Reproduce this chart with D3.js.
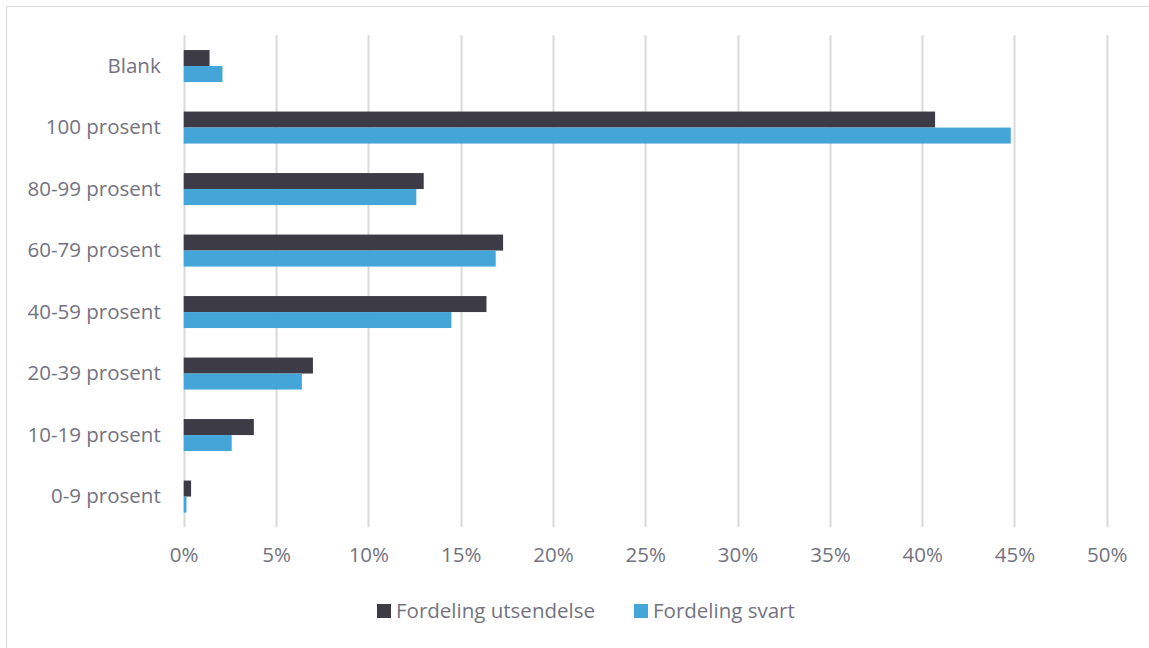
<!DOCTYPE html>
<html>
<head>
<meta charset="utf-8">
<script src="https://cdn.jsdelivr.net/npm/d3@7"></script>
<style>
  html, body { margin: 0; padding: 0; background: #fff; }
  svg { display: block; }
  text { font-family: "Open Sans", "Noto Sans", sans-serif; fill: #737380; }
</style>
</head>
<body>
<svg id="chart" width="1149" height="648"></svg>
<script>
// Response categories, top to bottom
const categories = ["Blank", "100 prosent", "80-99 prosent", "60-79 prosent", "40-59 prosent", "20-39 prosent", "10-19 prosent", "0-9 prosent"];
// Share of questionnaires sent out (percent)
const utsendelse = [1.4, 40.7, 13.0, 17.3, 16.4, 7.0, 3.8, 0.4];
// Share of responses received (percent)
const svart = [2.1, 44.8, 12.6, 16.9, 14.5, 6.4, 2.6, 0.15];
const seriesNames = ["Fordeling utsendelse", "Fordeling svart"];
const xTicks = [0, 5, 10, 15, 20, 25, 30, 35, 40, 45, 50];

const colors = ["#3d3c46", "#44a5d9"];
const fontSize = 20.5;
const svg = d3.select("#chart");

// outer frame
svg.append("rect")
  .attr("x", 6.5).attr("y", 6.5).attr("width", 1160).attr("height", 660)
  .attr("fill", "none").attr("stroke", "#d9d9d9").attr("stroke-width", 1);

const plotLeft = 183.7, plotRight = 1106.8, plotTop = 35.3, plotBottom = 527.3;

const x = d3.scaleLinear().domain([0, 50]).range([plotLeft, plotRight]);
const y = d3.scaleBand().domain(categories).range([plotTop, plotBottom]).paddingInner(0.48).paddingOuter(0.24);
const inner = d3.scaleBand().domain(seriesNames).range([0, y.bandwidth()]);

// vertical gridlines
svg.append("g").selectAll("line").data(xTicks).join("line")
  .attr("x1", d => Math.round(x(d)) + 0.5).attr("x2", d => Math.round(x(d)) + 0.5)
  .attr("y1", plotTop).attr("y2", plotBottom)
  .attr("stroke", "#d9d9d9").attr("stroke-width", 2);

// x axis labels
const xAxis = d3.axisBottom(x).tickValues(xTicks).tickFormat(d => d + "%").tickSize(0).tickPadding(17);
const gx = svg.append("g").attr("transform", `translate(0,${plotBottom + 3})`).call(xAxis);
gx.select(".domain").remove();
gx.selectAll("text").attr("font-size", fontSize).attr("fill", "#737380")
  .style("font-family", '"Open Sans", "Noto Sans", sans-serif');

// y axis labels
const yAxis = d3.axisLeft(y).tickSize(0).tickPadding(23);
const gy = svg.append("g").attr("transform", `translate(${plotLeft},0)`).call(yAxis);
gy.select(".domain").remove();
gy.selectAll("text").attr("font-size", fontSize).attr("fill", "#737380")
  .style("font-family", '"Open Sans", "Noto Sans", sans-serif');

// bars
const rows = categories.map((c, i) => ({ c, vals: [utsendelse[i], svart[i]] }));
const groups = svg.append("g").selectAll("g").data(rows).join("g")
  .attr("transform", d => `translate(0,${y(d.c)})`);
groups.selectAll("rect").data(d => d.vals.map((v, k) => ({ v, k }))).join("rect")
  .attr("x", x(0))
  .attr("y", d => inner(seriesNames[d.k]))
  .attr("width", d => x(d.v) - x(0))
  .attr("height", inner.bandwidth())
  .attr("fill", d => colors[d.k]);

// legend
const legendY = 611;
const legendItems = [{ name: seriesNames[0], x: 377 }, { name: seriesNames[1], x: 634 }];
const lg = svg.append("g").selectAll("g").data(legendItems).join("g")
  .attr("transform", d => `translate(${d.x},${legendY})`);
lg.append("rect").attr("x", 0).attr("y", -7).attr("width", 14).attr("height", 14)
  .attr("fill", (d, i) => colors[i]);
lg.append("text").attr("x", 19).attr("y", 0).attr("dy", "0.35em")
  .attr("font-size", fontSize).text(d => d.name);
</script>
</body>
</html>
